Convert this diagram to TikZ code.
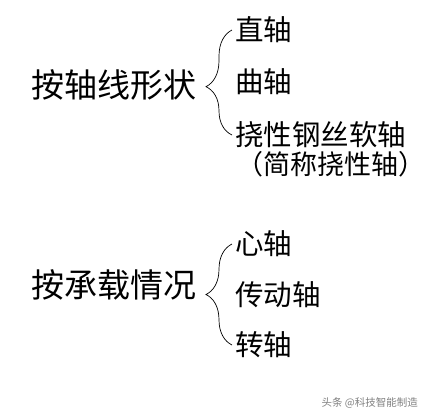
\documentclass[tikz,border=0pt]{standalone}
\usepackage{fontspec}
\newfontfamily\cjk{Noto Sans CJK SC}
\usepackage{tikz}
\usetikzlibrary{positioning,decorations.pathreplacing}
\tikzset{
	group/.style={
		anchor=west,
		inner sep=0pt,
		font=\cjk\fontsize{33bp}{33bp}\selectfont
	},
	item/.style={
		anchor=west,
		inner sep=0pt,
		font=\cjk\fontsize{28.5bp}{28.5bp}\selectfont
	},
	curly/.style={
		decorate,
		decoration={brace, amplitude=26bp, aspect=#1},
		line width=0.7bp
	}
}

\begin{document}
\begin{tikzpicture}[x=1bp, y=-1bp]
	\useasboundingbox (0,0) rectangle (429,419);
	% by shape of the axis
	\node [group] (shape) at (31,85) {按轴线形状};
	\node [item] (straight) at (235,30) {直轴};
	\node [item] (crank) at (235,82) {曲轴};
	\node [item] (flexible) at (235,135) {挠性钢丝软轴};
	\node [item, font=\cjk\fontsize{27bp}{27bp}\selectfont] (flexnote) at (236,164) {（简称挠性轴）};
	\draw [curly=0.46] ([xshift=-3bp]flexible.west) -- ([xshift=-3bp]straight.west);
	% by load
	\node [group] (load) at (31,285) {按承载情况};
	\node [item] (spindle) at (235,244) {心轴};
	\node [item] (drive) at (235,295) {传动轴};
	\node [item] (rotating) at (235,345) {转轴};
	\draw [curly=0.5] ([xshift=-3bp]rotating.west) -- ([xshift=-3bp]spindle.west);
	\node [anchor=east, inner sep=0pt, text=gray, font=\cjk\fontsize{10.5bp}{10.5bp}\selectfont] (credit) at (418,403) {头条 @科技智能制造};
\end{tikzpicture}
\end{document}
